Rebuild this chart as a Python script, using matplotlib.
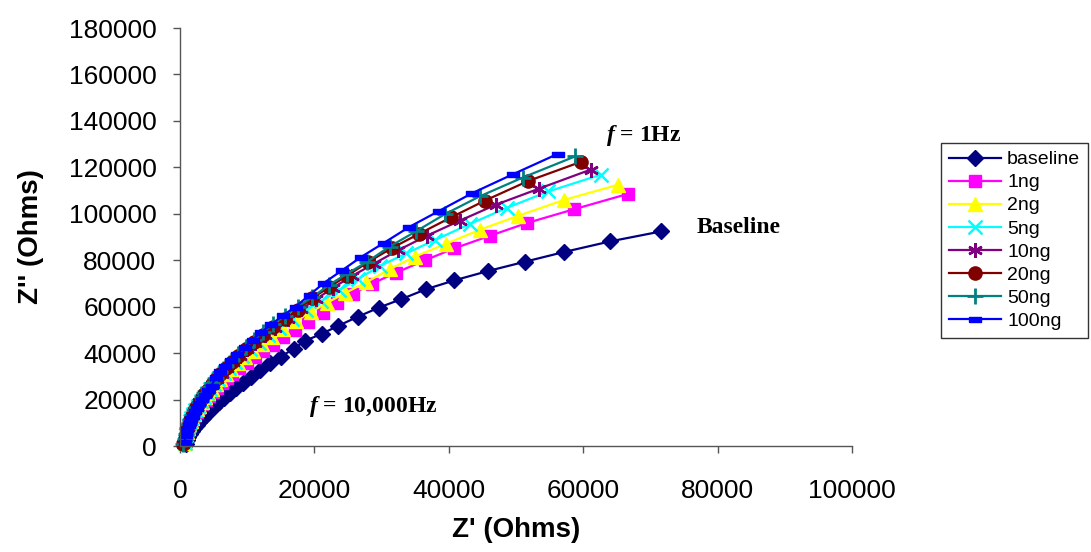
import matplotlib
matplotlib.use("Agg")
import matplotlib.pyplot as plt

plt.rcParams['font.family'] = ['Liberation Sans', 'DejaVu Sans']
plt.rcParams['mathtext.fontset'] = 'custom'
plt.rcParams['mathtext.it'] = 'Liberation Serif:italic:bold'
plt.rcParams['mathtext.rm'] = 'Liberation Serif:bold'

# Nyquist data (Z' real, Z'' imaginary, ohms), 1 Hz at the first entry
baseline_re = [71600, 64000, 57100, 51400, 45900, 40800, 36600, 32900, 29600, 26500,
               23500, 21100, 18600, 16900, 15000, 13400, 11900, 10600, 9400, 8400,
               7400, 6600, 5800, 5100, 4500, 3900, 3400, 2900, 2500, 2100,
               1800, 1500, 1200, 1000, 900]
baseline_im = [92400, 88100, 83500, 79400, 75400, 71300, 67500, 63200, 59600, 55700,
               51700, 48300, 45300, 41800, 38500, 35600, 32600, 29900, 27300, 25000,
               22700, 20800, 18800, 16900, 15300, 13500, 12000, 10400, 9100, 7600,
               6400, 5100, 3700, 2600, 800]

ng1_re = [66700, 58700, 51600, 46100, 40800, 36400, 32200, 28500, 25800, 23300,
          21300, 19100, 17100, 15400, 13800, 12400, 11100, 9900, 8800, 7800,
          7000, 6200, 5500, 4900, 4300, 3800, 3300, 2900, 2500, 2200,
          1900, 1600, 1300, 1000, 800]
ng1_im = [108600, 102000, 96000, 90500, 85100, 79900, 74700, 69800, 65600, 61500,
          57200, 53600, 50000, 47100, 43600, 41000, 38400, 35900, 33500, 31200,
          29200, 27000, 25100, 23300, 21400, 19700, 17900, 16300, 14600, 13300,
          11700, 10000, 8000, 5500, 1500]

ng2_re = [65200, 57200, 50300, 44600, 39600, 35000, 31200, 27700, 24600, 21900,
          19500, 17300, 15400, 13700, 12200, 10800, 9600, 8600, 7600, 6800,
          6000, 5300, 4700, 4200, 3700, 3200, 2800, 2500, 2100, 1800,
          1600, 1400, 1200, 1000, 800]
ng2_im = [112500, 106000, 99100, 93100, 87100, 81600, 76100, 70500, 65900, 61700,
          57800, 53900, 50400, 47100, 44100, 41000, 38300, 35800, 33200, 31100,
          28800, 26600, 24600, 22900, 21000, 19100, 17300, 15900, 13800, 12100,
          10900, 9500, 7900, 5900, 1500]

ng5_re = [62600, 54800, 48600, 43200, 38000, 33700, 29800, 26500, 23600, 21000,
          18700, 16600, 14800, 13100, 11700, 10400, 9200, 8200, 7300, 6500,
          5700, 5100, 4500, 4000, 3500, 3100, 2700, 2300, 2000, 1700,
          1500, 1300, 1100, 900, 700]
ng5_im = [116800, 109600, 102500, 95700, 88800, 83000, 77600, 72000, 67000, 62400,
          58400, 54500, 51000, 47600, 44500, 41600, 38600, 36000, 33500, 31300,
          28800, 26900, 24700, 23000, 20900, 19300, 17400, 15400, 13700, 11900,
          10600, 9000, 7200, 4900, 1200]

ng10_re = [61100, 53400, 47000, 41700, 36700, 32400, 28800, 25600, 22800, 20300,
           18000, 16000, 14200, 12600, 11200, 10000, 8900, 7900, 7000, 6200,
           5500, 4900, 4300, 3800, 3300, 2900, 2500, 2200, 1900, 1600,
           1400, 1200, 1000, 800, 500]
ng10_im = [119000, 110800, 103900, 97100, 90500, 84200, 78400, 73200, 68200, 63300,
           58900, 54700, 51000, 47700, 44400, 41600, 38800, 36100, 33600, 31100,
           28900, 26800, 24600, 22700, 20600, 18800, 16900, 15300, 13500, 11500,
           10100, 8300, 6300, 3500, 800]

ng20_re = [59600, 51800, 45400, 40300, 35600, 31500, 28000, 24900, 22200, 19700,
           17500, 15600, 13900, 12400, 11000, 9800, 8700, 7700, 6800, 6000,
           5300, 4700, 4100, 3600, 3200, 2800, 2400, 2100, 1800, 1500,
           1300, 1100, 900, 700, 500]
ng20_im = [122300, 114100, 105700, 98400, 91400, 85200, 79200, 73400, 68400, 63700,
           58600, 54800, 51300, 48000, 44700, 41800, 38900, 36200, 33500, 31000,
           28700, 26600, 24300, 22300, 20500, 18600, 16600, 14900, 13100, 11000,
           9400, 7500, 5100, 2800, 800]

ng50_re = [58800, 51000, 44600, 39400, 35100, 31200, 27900, 24800, 22100, 19700,
           17500, 15600, 13900, 12400, 11000, 9800, 8700, 7700, 6800, 6000,
           5300, 4700, 4100, 3600, 3200, 2800, 2400, 2100, 1800, 1500,
           1300, 1100, 900, 700, 500]
ng50_im = [124700, 115600, 107500, 99800, 92400, 85900, 79400, 74100, 69200, 64100,
           60000, 56100, 52500, 49200, 45800, 42800, 39800, 37100, 34300, 31700,
           29400, 27200, 24900, 22800, 21000, 19000, 17000, 15300, 13400, 11300,
           9600, 7700, 5200, 2900, 800]

ng100_re = [56300, 49600, 43500, 38600, 34100, 30300, 26900, 24100, 21500, 19300,
            17200, 15300, 13600, 12100, 10800, 9600, 8500, 7600, 6700, 6000,
            5300, 4700, 4200, 3700, 3300, 2900, 2500, 2200, 1900, 1700,
            1500, 1300, 1100, 900, 700]
ng100_im = [125900, 117100, 108900, 101300, 94300, 87400, 81300, 75600, 70400, 65100,
            60000, 56200, 52400, 49000, 45800, 42700, 39800, 37200, 34400, 32200,
            29700, 26000, 24000, 22000, 20200, 18400, 16500, 14900, 13100, 11900,
            10500, 8900, 7200, 4900, 1800]

labels = ['baseline', '1ng', '2ng', '5ng', '10ng', '20ng', '50ng', '100ng']
x_ticks = [0, 20000, 40000, 60000, 80000, 100000]
y_ticks = [0, 20000, 40000, 60000, 80000, 100000, 120000, 140000, 160000, 180000]

dash_marker = [(-1, -0.45), (1, -0.45), (1, 0.45), (-1, 0.45), (-1, -0.45)]

series = [
    (baseline_re, baseline_im, dict(color='#000080', marker='D', ms=8.5)),
    (ng1_re, ng1_im, dict(color='#FF00FF', marker='s', ms=9)),
    (ng2_re, ng2_im, dict(color='#FFFF00', marker='^', ms=10.5)),
    (ng5_re, ng5_im, dict(color='#00FFFF', marker='x', ms=9.5, mew=1.8)),
    (ng10_re, ng10_im, dict(color='#800080', marker=(6, 2, 0), ms=10.5, mew=1.8)),
    (ng20_re, ng20_im, dict(color='#800000', marker='o', ms=9.5)),
    (ng50_re, ng50_im, dict(color='#008080', marker='+', ms=11.5, mew=2)),
    (ng100_re, ng100_im, dict(color='#0000FF', marker=dash_marker, ms=8)),
]

fig = plt.figure(figsize=(10.91, 5.52), dpi=100)
ax = fig.add_axes([180 / 1091, 1 - 446 / 552, 672 / 1091, 418 / 552])

handles = []
for (xr, yi, st), lab in zip(series, labels):
    h, = ax.plot(xr, yi, color=st['color'], marker=st['marker'], ms=st['ms'],
                 mfc=st['color'], mec=st['color'], mew=st.get('mew', 1),
                 lw=1.6, label=lab, clip_on=False)
    handles.append(h)

ax.set_xlim(0, 100000)
ax.set_ylim(0, 180000)
ax.set_xticks(x_ticks)
ax.set_yticks(y_ticks)
ax.set_xticklabels([str(v) for v in x_ticks])
ax.set_yticklabels([str(v) for v in y_ticks])
for side in ('top', 'right'):
    ax.spines[side].set_visible(False)
for side in ('left', 'bottom'):
    ax.spines[side].set_color('#555555')
    ax.spines[side].set_linewidth(1.0)
ax.tick_params(axis='both', direction='out', length=5, width=1, color='#555555',
               labelsize=19)
ax.tick_params(axis='x', pad=19)
ax.tick_params(axis='y', pad=12)

ax.set_xlabel("Z' (Ohms)", fontsize=20, fontweight='bold', labelpad=10)
ax.set_ylabel("Z'' (Ohms)", fontsize=20, fontweight='bold', labelpad=18)

ann = dict(fontsize=17, fontweight='bold', family='Liberation Serif', va='center')
ax.text(63400, 133600, r"$f$ = 1Hz", ha='left', **ann)
ax.text(76900, 94000, "Baseline", ha='left', **ann)
ax.text(19200, 16800, r"$f$ = 10,000Hz", ha='left', **ann)

leg = fig.legend(handles=handles, loc='upper left',
                 bbox_to_anchor=(941 / 1091, 1 - 143 / 552),
                 fontsize=14, frameon=True, fancybox=False, shadow=False,
                 handlelength=2.7, handletextpad=0.3, labelspacing=0.28,
                 borderpad=0.4, borderaxespad=0)
leg.get_frame().set_edgecolor('#000000')
leg.get_frame().set_linewidth(1.0)

fig.savefig('out.png', dpi=100)
